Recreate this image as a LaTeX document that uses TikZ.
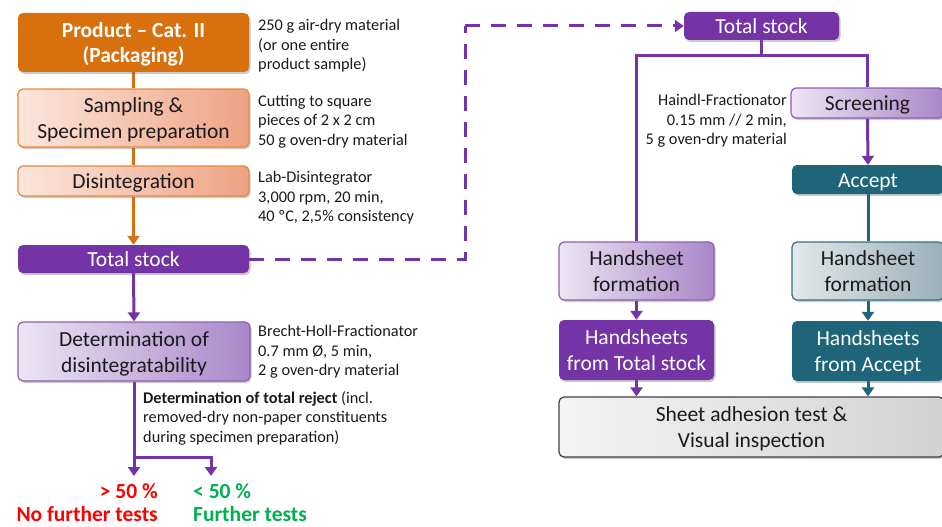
\documentclass[tikz,border=0pt]{standalone}
\usepackage{fontspec}
\setmainfont{Carlito}
\usetikzlibrary{arrows.meta,shadows,backgrounds}
\definecolor{dorange}{HTML}{D8700E}
\definecolor{lorangeL}{HTML}{FCE6DC}
\definecolor{lorangeR}{HTML}{EEA283}
\definecolor{oborder}{HTML}{E58A3A}
\definecolor{purp}{HTML}{7434A6}
\definecolor{lpurpL}{HTML}{ECE5F3}
\definecolor{lpurpR}{HTML}{A987C8}
\definecolor{pborder}{HTML}{8F5CB8}
\definecolor{teal}{HTML}{1F6579}
\definecolor{ltealL}{HTML}{E3E8EA}
\definecolor{ltealR}{HTML}{9AAFB8}
\definecolor{tborder}{HTML}{2F7185}
\definecolor{grayL}{HTML}{F4F4F4}
\definecolor{grayR}{HTML}{D2D2D2}
\definecolor{txt}{HTML}{1A1A1A}
\definecolor{gre}{HTML}{00B050}
\newcommand{\bs}{\rule[-5pt]{0pt}{25pt}}
\newcommand{\twol}[2]{\bs #1\\#2\bs}
\begin{document}
\begin{tikzpicture}[x=1pt,y=-1pt,
  box/.style={rounded corners=5pt, align=center, inner sep=0pt,
    drop shadow={shadow xshift=1.5pt,shadow yshift=-2pt,opacity=0.35,fill=black!60}},
  darkbox/.style={box, font=\fontsize{21.5}{26}\selectfont, text=white},
  lightbox/.style={box, line width=1.2pt, font=\fontsize{21.5}{26}\selectfont, text=txt},
  side/.style={anchor=north west, align=left, inner sep=0pt, font=\fontsize{16.3}{19.5}\selectfont, text=txt},
  res/.style={inner sep=0pt, font=\bfseries\fontsize{21.5}{24}\selectfont},
  tipa/.style={-{Triangle[width=12pt,length=9pt]}},
  oline/.style={line width=3pt, draw=dorange},
  pline/.style={line width=3pt, draw=purp},
  tline/.style={line width=3pt, draw=teal}
]
\useasboundingbox (0,0) rectangle (942,527);
\clip (0,0) rectangle (942,527);

% left column
\node[box, fill=dorange, text=white, font=\bfseries\fontsize{21.5}{25}\selectfont,
  minimum width=231pt, minimum height=59pt] (prod) at (133.5,42.5) {\twol{Product -- Cat. II}{(Packaging)}};
\node[lightbox, draw=oborder, left color=lorangeL, right color=lorangeR,
  minimum width=231pt, minimum height=58pt] (samp) at (133.5,118) {\twol{Sampling \&}{Specimen preparation}};
\node[lightbox, draw=oborder, left color=lorangeL, right color=lorangeR,
  minimum width=231pt, minimum height=30pt] (dis) at (133.5,181) {\bs Disintegration};
\node[darkbox, fill=purp, minimum width=231pt, minimum height=28pt] (ts1) at (133.5,259) {\bs Total stock};
\node[lightbox, draw=pborder, left color=lpurpL, right color=lpurpR,
  minimum width=232pt, minimum height=59pt] (det) at (134,351.5) {\twol{Determination of}{disintegratability}};

% right part
\node[darkbox, fill=purp, minimum width=155pt, minimum height=28pt] (ts2) at (761.5,26) {\bs Total stock};
\node[lightbox, draw=pborder, left color=lpurpL, right color=lpurpR,
  minimum width=153pt, minimum height=30pt] (scr) at (867.5,103) {\bs Screening};
\node[darkbox, fill=teal, minimum width=152pt, minimum height=29pt] (acc) at (868,179.5) {\bs Accept};
\node[lightbox, draw=pborder, left color=lpurpL, right color=lpurpR,
  minimum width=155pt, minimum height=58pt] (hf1) at (636.5,271) {\twol{Handsheet}{formation}};
\node[lightbox, draw=tborder, left color=ltealL, right color=ltealR,
  minimum width=152pt, minimum height=58pt] (hf2) at (868,271) {\twol{Handsheet}{formation}};
\node[darkbox, fill=purp,
  minimum width=155pt, minimum height=60pt] (ht) at (636.5,350) {\twol{Handsheets}{from Total stock}};
\node[darkbox, fill=teal,
  minimum width=152pt, minimum height=60pt] (ha) at (868,351) {\twol{Handsheets}{from Accept}};
\node[lightbox, draw=black!75, left color=grayL, right color=grayR,
  minimum width=385pt, minimum height=60pt] (sheet) at (751.5,427) {\twol{Sheet adhesion test \&}{Visual inspection}};

% side texts
\node[side] (t1) at (258,19) {250 g air-dry material\\(or one entire\\product sample)};
\node[side] (t2) at (258,94.7) {Cutting to square\\pieces of 2 x 2 cm\\50 g oven-dry material};
\node[side] (t3) at (258,171) {Lab-Disintegrator\\3,000 rpm, 20 min,\\40 ºC, 2,5\% consistency};
\node[side] (t4) at (258,325) {Brecht-Holl-Fractionator\\0.7 mm Ø, 5 min,\\2 g oven-dry material};
\node[side] (t5) at (143,391) {\textbf{Determination of total reject} (incl.\\removed-dry non-paper constituents\\during specimen preparation)};
\node[side, anchor=north east, align=right] (t6) at (787,94) {Haindl-Fractionator\\0.15 mm // 2 min,\\5 g oven-dry material};

% results
\node[res, anchor=east, text=red] (r1) at (158,491) {> 50 \%};
\node[res, anchor=east, text=red] (r2) at (158,514) {No further tests};
\node[res, anchor=west, text=gre] (g1) at (193,491) {< 50 \%};
\node[res, anchor=west, text=gre] (g2) at (193,514) {Further tests};

\coordinate (dc) at (465,26);
\coordinate (sp) at (761.5,56);
\coordinate (br) at (134,457);
\coordinate (a1) at (134,476);
\coordinate (a2) at (211,476);

\begin{scope}[on background layer]
\draw[oline] (prod.south) -- (samp.north);
\draw[oline] (samp.south) -- (dis.north);
\draw[oline, tipa] (dis.south) -- (ts1.north);
\draw[pline, tipa] (ts1.south) -- (det.north);
\draw[pline, tipa] (det.south) -- (a1);
\draw[pline, tipa] (br) -| (a2);
\draw[pline, dash pattern=on 15pt off 11pt] (ts1.east) -| (dc);
\draw[pline, dash pattern=on 15pt off 11pt, tipa] (dc) -- (ts2.west);
\draw[pline] (ts2.south) -- (sp);
\draw[pline] (sp) -| (hf1.north);
\draw[pline] (sp) -| (scr.north);
\draw[pline, tipa] (scr.south) -- (acc.north);
\draw[tline] (acc.south) -- (hf2.north);
\draw[pline, tipa] (hf1.south) -- (ht.north);
\draw[tline, tipa] (hf2.south) -- (ha.north);
\draw[pline, tipa] (ht.south) -- (ht.south |- sheet.north);
\draw[tline, tipa] (ha.south) -- (ha.south |- sheet.north);
\end{scope}
\end{tikzpicture}
\end{document}
